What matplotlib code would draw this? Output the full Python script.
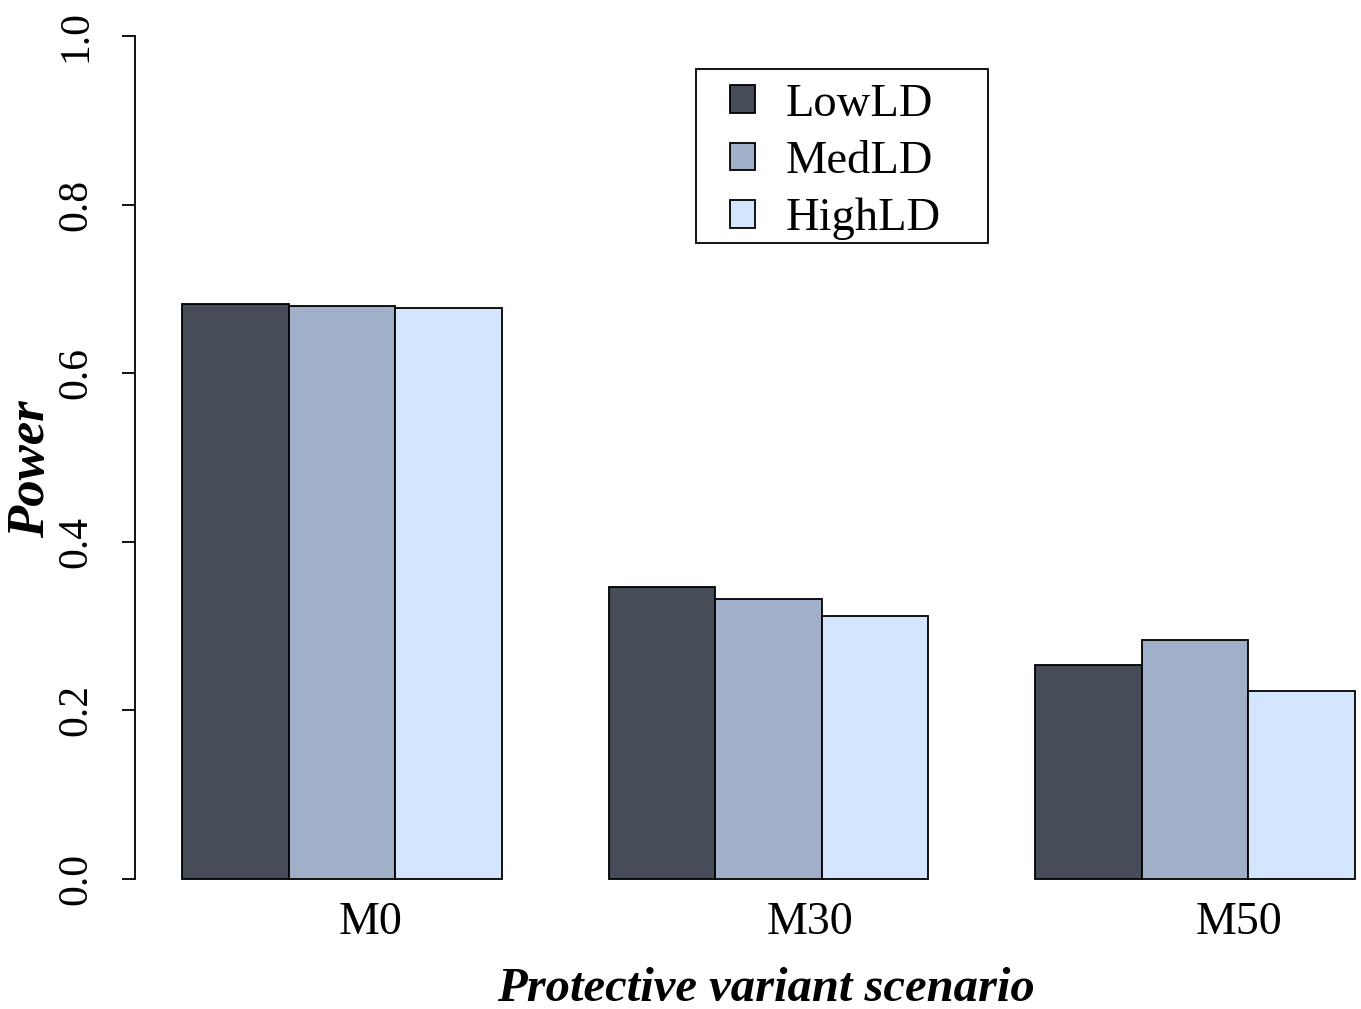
import matplotlib.pyplot as plt
from matplotlib.patches import Rectangle
import numpy as np

# scenarios and LD groups
scenarios = ['M0', 'M30', 'M50']
groups = ['LowLD', 'MedLD', 'HighLD']
colors = ['#474d58', '#a1b0c9', '#d3e6fd']

# power values
low_ld = [0.682, 0.346, 0.254]
med_ld = [0.680, 0.332, 0.283]
high_ld = [0.677, 0.312, 0.223]

yticks = [0.0, 0.2, 0.4, 0.6, 0.8, 1.0]
ytick_labels = ['0.0', '0.2', '0.4', '0.6', '0.8', '1.0']

plt.rcParams['font.family'] = ['Liberation Serif', 'DejaVu Serif']

W, H = 1361, 1009
fig = plt.figure(figsize=(W / 100, H / 100), dpi=100)

# axes area (R-like barplot, partly cut off on the right)
ax = fig.add_axes([135 / W, (H - 912.7) / H, 1267 / W, 910.4 / H])

# R barplot beside=TRUE with space=c(0,1): bars of width 1, one gap between groups
series = [low_ld, med_ld, high_ld]
for i, vals in enumerate(series):
    x = np.arange(len(scenarios)) * 4 + 1.5 + i
    ax.bar(x, vals, width=1.0, color=colors[i], edgecolor='black',
           linewidth=1.3, label=groups[i])

ax.set_xlim(0.56, 12.44)
ax.set_ylim(-0.04, 1.04)

for s in ['top', 'right', 'bottom']:
    ax.spines[s].set_visible(False)
ax.spines['left'].set_bounds(0, 1)
ax.spines['left'].set_linewidth(1.3)

ax.set_yticks(yticks)
ax.set_yticklabels(ytick_labels, rotation=90, va='center', fontsize=30)
ax.tick_params(axis='y', length=9.5, width=1.3, pad=19)
ax.set_xticks([])

# group labels
label_x = [2.77, 6.89, 10.91]
for xx, name in zip(label_x, scenarios):
    ax.text(xx, -0.052, name, ha='center', va='center', fontsize=33,
            clip_on=False)

fig.text(766 / W, 1 - 989 / H, 'Protective variant scenario', ha='center',
         va='center', fontsize=35, fontweight='bold', fontstyle='italic')
fig.text(31 / W, 1 - 469 / H, 'Power', rotation=90, ha='center',
         va='center', fontsize=38, fontweight='bold', fontstyle='italic')

# legend entries without frame, frame drawn separately like R's legend box
leg = ax.legend(loc='upper left', bbox_to_anchor=(730 / W, 1 - 83 / H),
                bbox_transform=fig.transFigure, borderaxespad=0, borderpad=0,
                fontsize=33.5, frameon=False,
                handlelength=0.54, handleheight=0.54, handletextpad=0.65,
                labelspacing=0.32)
fig.patches.append(Rectangle((696 / W, 1 - 243 / H), 292 / W, 174 / H,
                             transform=fig.transFigure, fill=False,
                             edgecolor='black', linewidth=1.3))

fig.savefig('out.png', dpi=100)
